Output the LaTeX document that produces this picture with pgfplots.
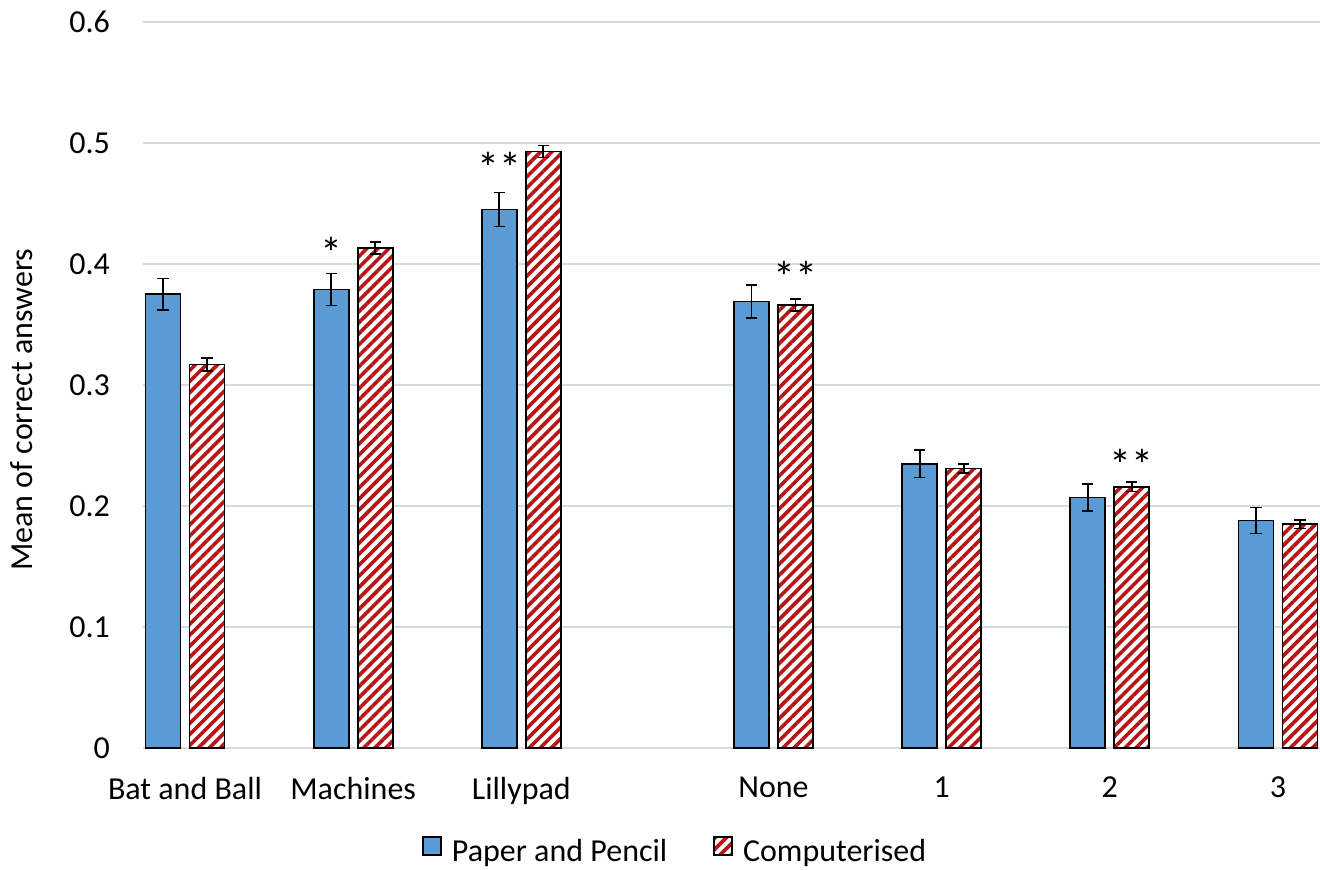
\documentclass[border=0pt]{standalone}
\usepackage{pgfplots}
\pgfplotsset{compat=1.18}
\usepackage{pgfplotstable}
\usetikzlibrary{patterns.meta}
\usepackage{fontspec}
\setmainfont{Carlito}
\definecolor{barblue}{HTML}{5B9BD5}
\definecolor{hatchred}{HTML}{B81414}
\definecolor{gridgray}{HTML}{D9D9D9}

\pgfplotstableread{
x    blue   berr    red    rerr
0    0.375  0.0130  0.317  0.0054
1    0.379  0.0132  0.413  0.0050
2    0.445  0.0140  0.493  0.0050
3.5  0.369  0.0135  0.366  0.0050
4.5  0.235  0.0115  0.231  0.0040
5.5  0.207  0.0112  0.216  0.0040
6.5  0.188  0.0107  0.185  0.0037
}\datatable

\pgfplotstableread{
x    y      lab
1    0.396  {*}
2    0.4665 {**}
}\bluestars

\pgfplotstableread{
x    y      lab
3.5  0.3765 {**}
5.5  0.221  {**}
}\redstars

\begin{document}
\fontsize{16}{19.2}\selectfont
\begin{tikzpicture}
\begin{axis}[
  scale only axis,
  width=588.5pt, height=363pt,
  xmin=-0.25, xmax=6.75,
  ymin=0, ymax=0.6,
  ybar=4.5pt, bar width=17.5pt,
  axis x line*=bottom, axis y line*=left,
  y axis line style={draw=none},
  x axis line style={draw=gridgray, line width=0.9pt},
  major tick length=0pt,
  ymajorgrids, grid style={draw=gridgray, line width=0.85pt},
  ytick={0,0.1,0.2,0.3,0.4,0.5,0.6},
  yticklabel style={/pgf/number format/fixed, /pgf/number format/assume math mode=true, xshift=-11pt},
  xtick={0,1,2,3.5,4.5,5.5,6.5},
  xticklabels={Bat and Ball, Machines, Lillypad, None, 1, 2, 3},
  xticklabel style={yshift=-9pt},
  ylabel={Mean of correct answers},
  ylabel style={at={(axis description cs:-0.1028,0.466)}, anchor=center},
  legend style={at={(axis description cs:0.453,-0.1446)}, anchor=center, draw=none,
    legend columns=2,
    /tikz/every odd column/.append style={column sep=3pt},
    /tikz/every even column/.append style={column sep=21pt},
    inner sep=0pt},
  legend image code/.code={\draw[#1, line width=0.9pt] (0pt,-1pt) rectangle (9pt,8pt);},
  error bars/y dir=both, error bars/y explicit,
  error bars/error bar style={line width=0.85pt, black},
  error bars/error mark options={rotate=90, mark size=2.8pt, line width=0.85pt, black},
  nodes near coords style={anchor=base, inner sep=0pt, font=\fontsize{22}{26}\selectfont},
]
\addplot[fill=barblue, draw=black, line width=0.9pt, bar shift=-11pt]
  table[x=x, y=blue, y error=berr] {\datatable};
\addplot[draw=black, line width=0.9pt, bar shift=11pt, preaction={fill=white},
  pattern={Lines[angle=45, distance=3.9pt, line width=1.8pt]}, pattern color=hatchred]
  table[x=x, y=red, y error=rerr] {\datatable};
\legend{Paper and Pencil, Computerised}
\addplot[draw=none, fill=none, bar shift=-11pt, forget plot, nodes near coords,
  point meta=explicit symbolic, error bars/y dir=none]
  table[x=x, y=y, meta=lab] {\bluestars};
\addplot[draw=none, fill=none, bar shift=11pt, forget plot, nodes near coords,
  point meta=explicit symbolic, error bars/y dir=none]
  table[x=x, y=y, meta=lab] {\redstars};
\end{axis}
\pgfresetboundingbox
\path[use as bounding box] (-71.5pt,-60.5pt) rectangle (588.5pt,374pt);
\end{tikzpicture}
\end{document}
